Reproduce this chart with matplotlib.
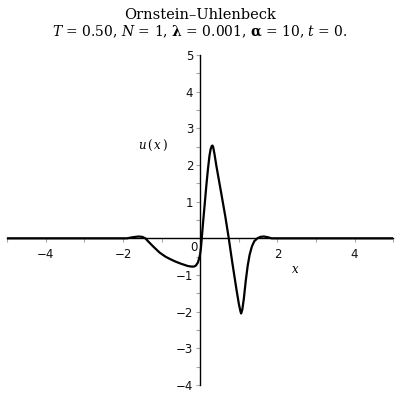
import matplotlib
matplotlib.use("Agg")
import matplotlib.pyplot as plt
from matplotlib.ticker import MultipleLocator, FixedLocator

# u(x)
x_vals = [-5.0, -1.9, -1.75, -1.6, -1.5, -1.42, -1.35, -1.22, -1.05, -0.9,
          -0.79, -0.65, -0.53, -0.42, -0.32, -0.23, -0.16, -0.11, -0.06, -0.02,
          0.0, 0.02, 0.04, 0.08, 0.12, 0.16, 0.20, 0.24, 0.27, 0.30,
          0.32, 0.34, 0.37, 0.42, 0.55, 0.65, 0.74, 0.83, 0.94, 1.00,
          1.04, 1.06, 1.09, 1.13, 1.18, 1.23, 1.28, 1.34, 1.40,
          1.48, 1.56, 1.65, 1.75, 1.85, 5.0]
u_vals = [0.0, 0.0, 0.03, 0.05, 0.04, 0.0, -0.08, -0.22, -0.39, -0.50,
          -0.56, -0.63, -0.68, -0.72, -0.755, -0.77, -0.77, -0.74, -0.66, -0.52,
          -0.42, -0.25, 0.0, 0.5, 0.97, 1.45, 1.88, 2.25, 2.43, 2.52,
          2.53, 2.47, 2.30, 1.97, 1.20, 0.60, 0.0, -0.65, -1.40, -1.78,
          -1.98, -2.05, -1.95, -1.65, -1.16, -0.75, -0.45, -0.22, -0.08,
          0.0, 0.04, 0.05, 0.03, 0.0, 0.0]

x_labels = [-4, -2, 2, 4]
y_labels = [-4, -3, -2, -1, 1, 2, 3, 4, 5]

title_top = "Ornstein\u2013Uhlenbeck"
title_bottom = (r"$T$ = 0.50, $N$ = 1, $\mathbf{\lambda}$ = 0.001, "
                r"$\mathbf{\alpha}$ = 10, $t$ = 0.")

plt.rcParams["mathtext.fontset"] = "dejavuserif"

fig = plt.figure(figsize=(4, 4), dpi=100)
ax = fig.add_axes([0.018, 0.0375, 0.965, 0.825])
ax.set_xlim(-5, 5)
ax.set_ylim(-4, 5)

ax.plot(x_vals, u_vals, color="black", lw=1.6, solid_joinstyle="round")

# axes crossing at the origin
for side in ("top", "right"):
    ax.spines[side].set_visible(False)
ax.spines["left"].set_position(("data", 0))
ax.spines["bottom"].set_position(("data", 0))
ax.spines["left"].set_linewidth(1.0)
ax.spines["bottom"].set_linewidth(1.0)

ax.xaxis.set_major_locator(FixedLocator(x_labels))
ax.xaxis.set_minor_locator(MultipleLocator(1))
ax.yaxis.set_major_locator(FixedLocator(y_labels))
ax.yaxis.set_minor_locator(MultipleLocator(0.5))
ax.tick_params(which="both", direction="out", color="#a8a8a8", width=0.8)
ax.tick_params(which="major", length=3, labelsize=8.5, labelcolor="#111111")
ax.tick_params(axis="x", which="major", pad=4)
ax.tick_params(axis="y", which="major", pad=2)
ax.tick_params(which="minor", length=3)
ax.set_xticklabels([f"\u2212{abs(v)}" if v < 0 else str(v) for v in x_labels])
ax.set_yticklabels([f"\u2212{abs(v)}" if v < 0 else str(v) for v in y_labels])

ax.annotate("0", xy=(0, 0), xytext=(-4.7, -6.5), textcoords="offset points",
            ha="center", va="center", fontsize=8.5, color="#111111")

ax.text(-1.23, 2.52, r"$u\,(\,x\,)$", fontsize=8.5, ha="center", va="center")
ax.text(2.47, -0.84, r"$x$", fontsize=8.5, ha="center", va="center")

fig.text(0.5, 0.962, title_top, family="DejaVu Serif", fontsize=10.5,
         ha="center", va="center")
fig.text(0.5, 0.92, title_bottom, family="DejaVu Serif", fontsize=10,
         ha="center", va="center")

fig.savefig("out.png", dpi=100)
